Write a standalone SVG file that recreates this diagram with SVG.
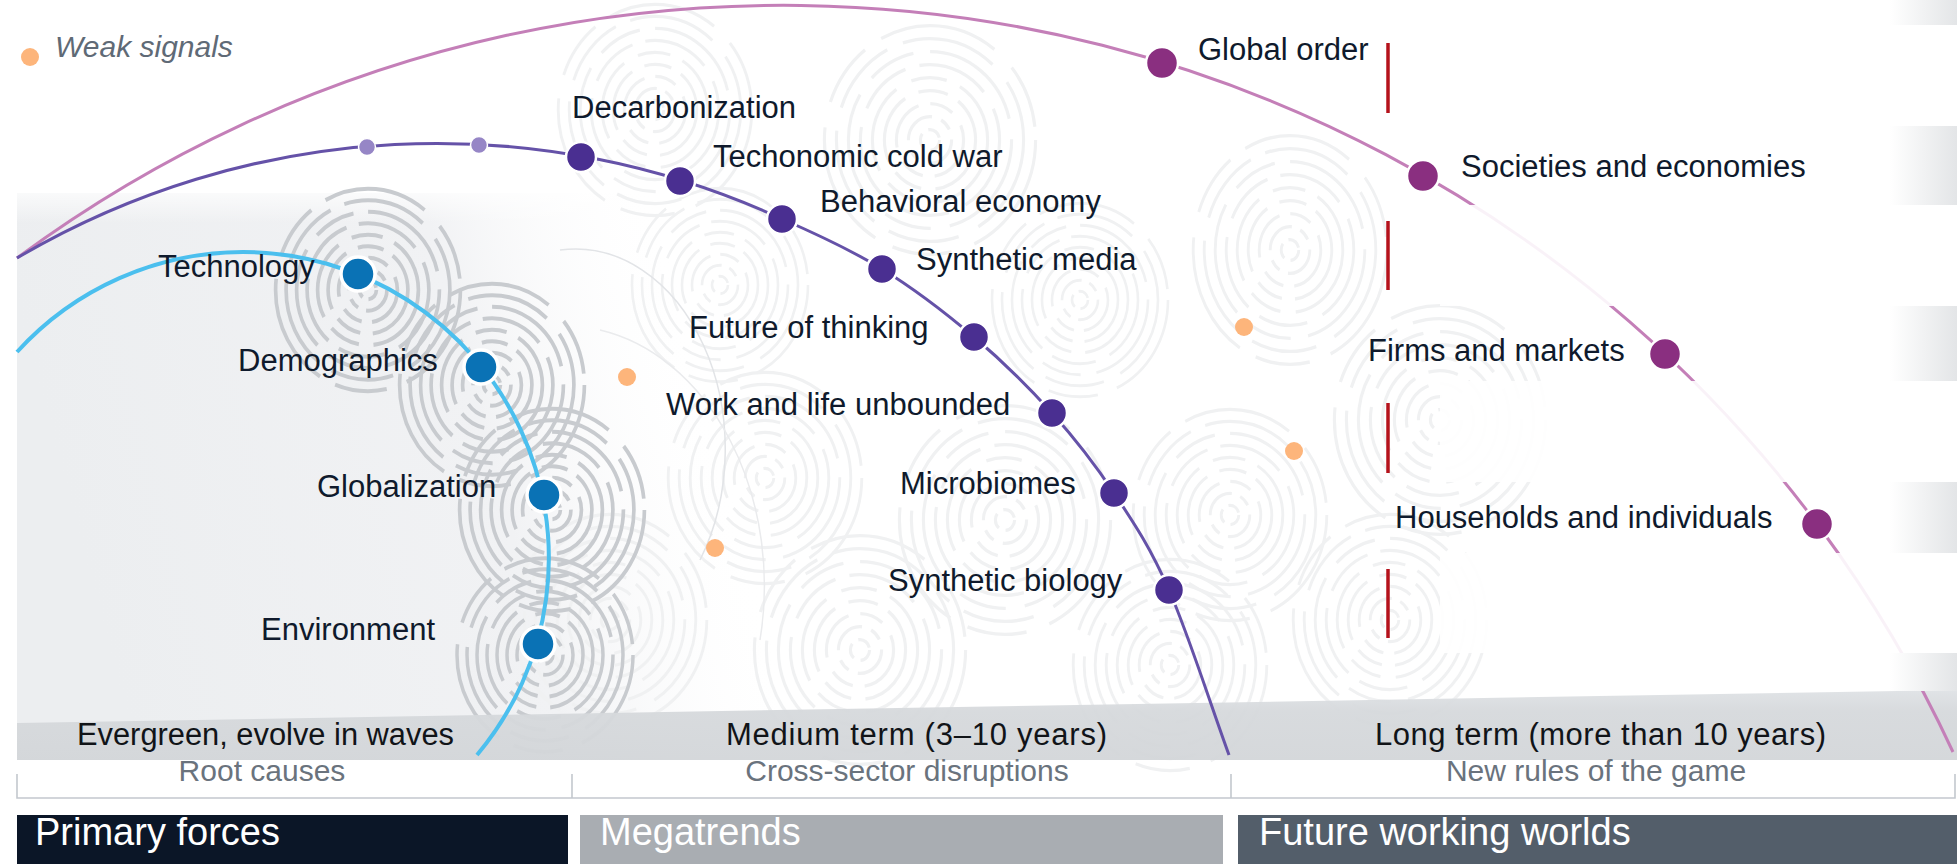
<svg xmlns="http://www.w3.org/2000/svg" xmlns:xlink="http://www.w3.org/1999/xlink" width="1957" height="864" viewBox="0 0 1957 864">
<defs>
<style>
text{font-family:"Liberation Sans",Arial,sans-serif}
.lbl{font-size:31px;fill:#0f1a2c}
.band{font-size:31px;fill:#111418}
.sub{font-size:30px;fill:#6a737d}
.hdr{font-size:38px;fill:#ffffff}
.bn{fill:#0a72b5;stroke:#fff;stroke-width:3.5}
.pn{fill:#4a2f91;stroke:#fff;stroke-width:2.5}
.pn2{fill:#9686c6;stroke:#fff;stroke-width:1.5}
.kn{fill:#8a2f80;stroke:#fff;stroke-width:2.5}
.ws{fill:#fdb57b}
.red{stroke:#b5121b;stroke-width:3.5}
.tick{stroke:#c3c8ce;stroke-width:1.6;fill:none}
.drip{stroke:#c8cbcf;stroke-width:3.5}
.lrip{stroke:#f0f1f2;stroke-width:2.6}
</style>
<g id="rip" fill="none">
<circle r="8" stroke-dasharray="12 6"/>
<circle r="18" stroke-dasharray="30 8 10 8"/>
<circle r="28" stroke-dasharray="40 10 20 12"/>
<circle r="38" stroke-dasharray="55 12 25 10"/>
<circle r="48" stroke-dasharray="70 14 30 12"/>
<circle r="58" stroke-dasharray="60 15 45 12"/>
<circle r="68" stroke-dasharray="90 16 40 14"/>
<circle r="78" stroke-dasharray="80 18 60 14"/>
<circle r="88" stroke-dasharray="100 20 50 16"/>
</g>
<linearGradient id="leftg" x1="0" y1="0.2" x2="1" y2="0">
<stop offset="0" stop-color="#eceef0"/>
<stop offset="0.55" stop-color="#f1f2f4"/>
<stop offset="0.85" stop-color="#ffffff" stop-opacity="0"/>
</linearGradient>
<linearGradient id="topfade" x1="0" y1="0" x2="0" y2="1">
<stop offset="0" stop-color="#ffffff" stop-opacity="0.7"/>
<stop offset="1" stop-color="#ffffff" stop-opacity="0"/>
</linearGradient>
<linearGradient id="bandg" x1="0" y1="0" x2="0" y2="1">
<stop offset="0" stop-color="#dfe2e5"/>
<stop offset="0.3" stop-color="#d6d9dc"/>
<stop offset="1" stop-color="#d3d6d9"/>
</linearGradient>
<linearGradient id="edgeg" x1="0" y1="0" x2="1" y2="0">
<stop offset="0" stop-color="#ffffff"/>
<stop offset="1" stop-color="#e3e5e7"/>
</linearGradient>
</defs>

<rect width="1957" height="864" fill="#ffffff"/>

<g id="background">
<rect x="17" y="193" width="760" height="567" fill="url(#leftg)"/>
<rect x="17" y="193" width="760" height="30" fill="url(#topfade)"/>
<g class="lrip">
<use xlink:href="#rip" transform="translate(655,110) scale(1.1,1.2)"/>
<use xlink:href="#rip" transform="translate(930,140) scale(1.2,1.3)"/>
<use xlink:href="#rip" transform="translate(720,285) scale(1,1.1)"/>
<use xlink:href="#rip" transform="translate(765,478) scale(1.1,1.2)"/>
<use xlink:href="#rip" transform="translate(1005,520) scale(1.2,1.3)"/>
<use xlink:href="#rip" transform="translate(860,650) scale(1.2,1.3)"/>
<use xlink:href="#rip" transform="translate(1230,515) scale(1.1,1.2)"/>
<use xlink:href="#rip" transform="translate(1290,250) scale(1.1,1.3)"/>
<use xlink:href="#rip" transform="translate(1440,420) scale(1.2,1.3)"/>
<use xlink:href="#rip" transform="translate(1170,665) scale(1.1,1.2)"/>
<use xlink:href="#rip" transform="translate(610,620) scale(1.1,1.2)"/>
<use xlink:href="#rip" transform="translate(1080,300) scale(1,1.1)"/>
<use xlink:href="#rip" transform="translate(1390,620) scale(1.1,1.2)"/>
</g>
<g class="drip">
<use xlink:href="#rip" transform="translate(368,290) scale(1.05,1.15)"/>
<use xlink:href="#rip" transform="translate(492,385) scale(1.05,1.15)"/>
<use xlink:href="#rip" transform="translate(552,510) scale(1.05,1.15)"/>
<use xlink:href="#rip" transform="translate(545,655) scale(1,1.1)"/>
</g>
<path d="M 560 250 A 150 200 0 0 1 700 560" fill="none" stroke="#e2e4e7" stroke-width="1.5"/>
<path d="M 600 330 A 200 260 0 0 1 760 640" fill="none" stroke="#eaebed" stroke-width="1.5"/>
</g>

<g id="time-band">
<polygon points="17,723 1957,690 1957,760 17,760" fill="url(#bandg)" opacity="0.95"/>
<text class="band" x="77" y="745" textLength="377" lengthAdjust="spacingAndGlyphs">Evergreen, evolve in waves</text>
<text class="band" x="726" y="745" textLength="381" lengthAdjust="spacing">Medium term (3–10 years)</text>
<text class="band" x="1375" y="745" textLength="451" lengthAdjust="spacing">Long term (more than 10 years)</text>
</g>

<g id="connectors" fill="none">
<path id="arc-future" d="M 17 258 A 1289 1289 0 0 1 1953 752" stroke="#c47fb8" stroke-width="3"/>
<path id="arc-mega" d="M 17 258 A 826 826 0 0 1 782 219 C 815.7 233.7 850 249.3 882 269 C 914 288.7 945.7 313 974 337 C 1002.3 361 1028.7 387 1052 413 C 1075.3 439 1094.5 463.5 1114 493 C 1133.5 522.5 1149.8 546.3 1169 590 C 1188.2 633.7 1209 700 1229 755" stroke="#6552a8" stroke-width="3"/>
<path id="arc-primary" d="M 17 352 A 306 306 0 0 1 243 252 A 306 306 0 0 1 477 755" stroke="#4bbfee" stroke-width="4"/>
</g>

<g id="row-masks">
<rect x="1440" y="25" width="517" height="101" fill="#ffffff" opacity="0.9"/>
<rect x="1440" y="205" width="517" height="101" fill="#ffffff" opacity="0.9"/>
<rect x="1440" y="381" width="517" height="101" fill="#ffffff" opacity="0.9"/>
<rect x="1440" y="553" width="517" height="100" fill="#ffffff" opacity="0.9"/>
<rect x="1890" y="0" width="67" height="25" fill="url(#edgeg)"/>
<rect x="1890" y="126" width="67" height="79" fill="url(#edgeg)"/>
<rect x="1890" y="306" width="67" height="75" fill="url(#edgeg)"/>
<rect x="1890" y="482" width="67" height="71" fill="url(#edgeg)"/>
<rect x="1890" y="653" width="67" height="38" fill="url(#edgeg)"/>
</g>

<g id="dividers">
<line class="red" x1="1388" y1="43" x2="1388" y2="113"/>
<line class="red" x1="1388" y1="221" x2="1388" y2="290"/>
<line class="red" x1="1388" y1="403" x2="1388" y2="473"/>
<line class="red" x1="1388" y1="569" x2="1388" y2="638"/>
</g>

<g id="legend-weak-signals">
<circle class="ws" cx="30" cy="57" r="9"/>
<text x="55" y="57" font-size="30" font-style="italic" fill="#5f6a76">Weak signals</text>
</g>

<g id="weak-signals">
<circle class="ws" cx="627" cy="377" r="9"/>
<circle class="ws" cx="715" cy="548" r="9"/>
<circle class="ws" cx="1244" cy="327" r="9"/>
<circle class="ws" cx="1294" cy="451" r="9"/>
</g>

<g id="node-technology"><circle class="bn" cx="358" cy="274" r="17"/><text class="lbl" x="158" y="277">Technology</text></g>
<g id="node-demographics"><circle class="bn" cx="481" cy="367" r="17"/><text class="lbl" x="238" y="371">Demographics</text></g>
<g id="node-globalization"><circle class="bn" cx="544" cy="495" r="17"/><text class="lbl" x="317" y="497">Globalization</text></g>
<g id="node-environment"><circle class="bn" cx="538" cy="644" r="17"/><text class="lbl" x="261" y="640">Environment</text></g>

<g id="node-weak-mega-1"><circle class="pn2" cx="367" cy="147" r="8.5"/></g>
<g id="node-weak-mega-2"><circle class="pn2" cx="479" cy="145" r="8.5"/></g>
<g id="node-decarbonization"><circle class="pn" cx="581" cy="157" r="15"/><text class="lbl" x="572" y="118">Decarbonization</text></g>
<g id="node-techonomic"><circle class="pn" cx="680" cy="181" r="15"/><text class="lbl" x="713" y="167">Techonomic cold war</text></g>
<g id="node-behavioral"><circle class="pn" cx="782" cy="219" r="15"/><text class="lbl" x="820" y="212">Behavioral economy</text></g>
<g id="node-synthetic-media"><circle class="pn" cx="882" cy="269" r="15"/><text class="lbl" x="916" y="270">Synthetic media</text></g>
<g id="node-future-thinking"><circle class="pn" cx="974" cy="337" r="15"/><text class="lbl" x="689" y="338">Future of thinking</text></g>
<g id="node-work-life"><circle class="pn" cx="1052" cy="413" r="15"/><text class="lbl" x="666" y="415">Work and life unbounded</text></g>
<g id="node-microbiomes"><circle class="pn" cx="1114" cy="493" r="15"/><text class="lbl" x="900" y="494">Microbiomes</text></g>
<g id="node-synthetic-biology"><circle class="pn" cx="1169" cy="590" r="15"/><text class="lbl" x="888" y="591">Synthetic biology</text></g>

<g id="node-global-order"><circle class="kn" cx="1162" cy="63" r="16"/><text class="lbl" x="1198" y="60">Global order</text></g>
<g id="node-societies"><circle class="kn" cx="1423" cy="176" r="16"/><text class="lbl" x="1461" y="177">Societies and economies</text></g>
<g id="node-firms"><circle class="kn" cx="1665" cy="354" r="16"/><text class="lbl" x="1368" y="361">Firms and markets</text></g>
<g id="node-households"><circle class="kn" cx="1817" cy="524" r="16"/><text class="lbl" x="1395" y="528">Households and individuals</text></g>

<g id="scope-brackets">
<path class="tick" d="M 17 774 V 798 H 1955 V 774 M 572 774 V 798 M 1231 774 V 798"/>
<text class="sub" x="262" y="781" text-anchor="middle">Root causes</text>
<text class="sub" x="907" y="781" text-anchor="middle">Cross-sector disruptions</text>
<text class="sub" x="1596" y="781" text-anchor="middle">New rules of the game</text>
</g>

<g id="header-primary"><rect x="17" y="815" width="551" height="49" fill="#0b1627"/><text class="hdr" x="35" y="845">Primary forces</text></g>
<g id="header-megatrends"><rect x="580" y="815" width="643" height="49" fill="#a9adb2"/><text class="hdr" x="600" y="845">Megatrends</text></g>
<g id="header-future"><rect x="1238" y="815" width="719" height="49" fill="#535e6a"/><text class="hdr" x="1259" y="845">Future working worlds</text></g>
</svg>
